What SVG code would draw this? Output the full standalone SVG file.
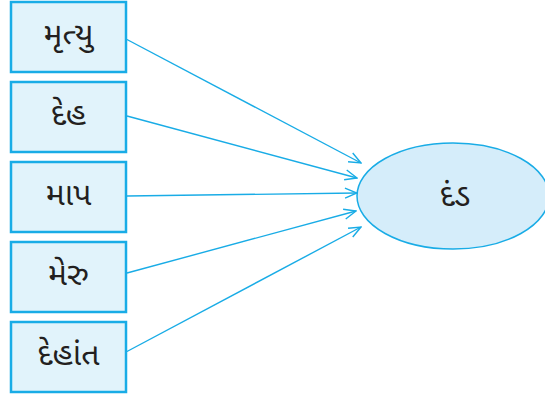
<svg xmlns="http://www.w3.org/2000/svg" width="545" height="398" viewBox="0 0 545 398">
<defs>
<style>
.box{fill:#e1f3fb;stroke:#19ace6;stroke-width:2.5}
.ell{fill:#d5edfa;stroke:#19ace6;stroke-width:1.5}
.lbl{font-family:"Noto Sans Gujarati","Noto Serif Gujarati","Lohit Gujarati","Noto Sans",sans-serif;font-size:32px;fill:#231f20;text-anchor:middle;dominant-baseline:central}
.con{stroke:#19ace6;stroke-width:1.4;fill:none;marker-end:url(#arr)}
</style>
<marker id="arr" viewBox="0 0 14 12" refX="13" refY="6" markerWidth="14" markerHeight="12" markerUnits="userSpaceOnUse" orient="auto">
<path d="M1,1 L13,6 L1,11" fill="none" stroke="#19ace6" stroke-width="1.4"/>
</marker>
</defs>
<rect width="545" height="398" fill="#ffffff"/>
<g id="connectors">
<line class="con" x1="126" y1="39" x2="361" y2="163"/>
<line class="con" x1="127" y1="116" x2="357" y2="178"/>
<line class="con" x1="127" y1="196" x2="357" y2="193"/>
<line class="con" x1="127" y1="273" x2="356" y2="211"/>
<line class="con" x1="126" y1="352" x2="361" y2="227"/>
</g>
<g id="n1"><rect class="box" x="11" y="2" width="115" height="70"/><text class="lbl" x="68.5" y="37">મૃત્યુ</text></g>
<g id="n2"><rect class="box" x="11" y="82" width="115" height="70"/><text class="lbl" x="68.5" y="117">દેહ</text></g>
<g id="n3"><rect class="box" x="11" y="162" width="115" height="70"/><text class="lbl" x="68.5" y="197">માપ</text></g>
<g id="n4"><rect class="box" x="11" y="242" width="115" height="70"/><text class="lbl" x="68.5" y="277">મેરુ</text></g>
<g id="n5"><rect class="box" x="11" y="322" width="115" height="70"/><text class="lbl" x="68.5" y="357">દેહાંત</text></g>
<g id="n6"><ellipse class="ell" cx="453" cy="196" rx="96" ry="53"/><text class="lbl" x="455" y="198">દંડ</text></g>
</svg>
